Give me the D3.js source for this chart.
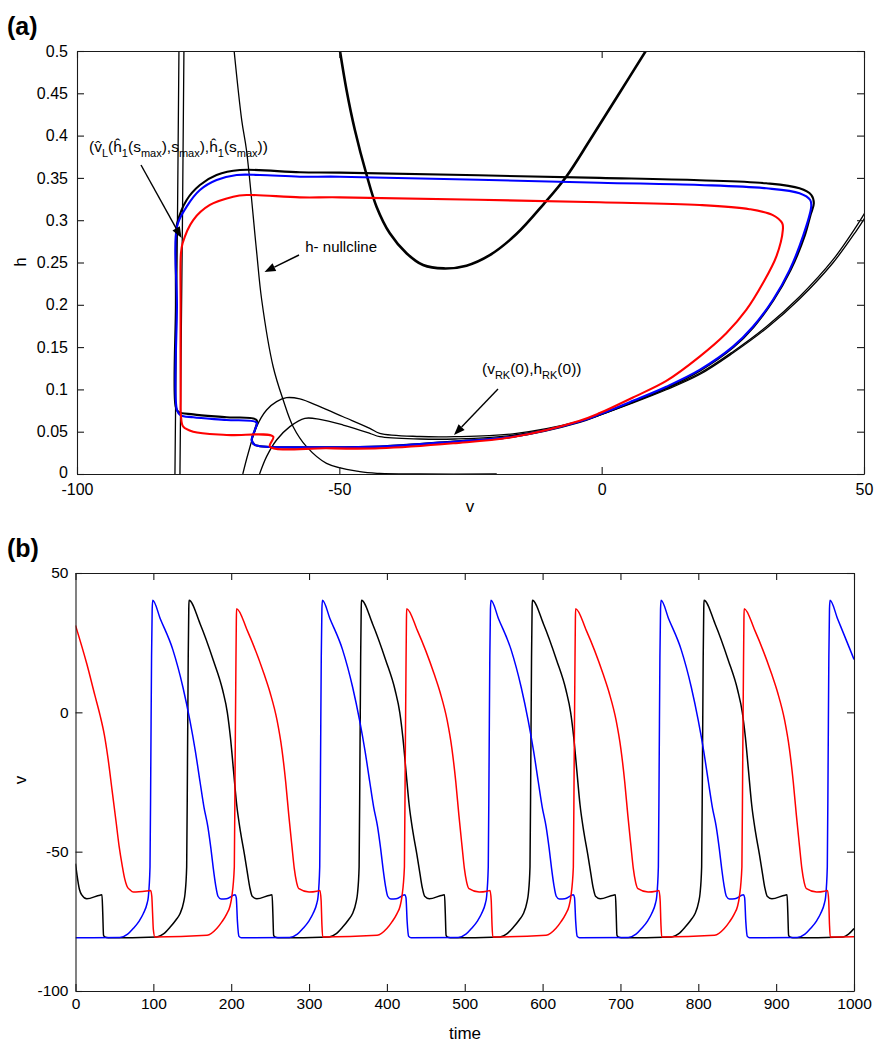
<!DOCTYPE html>
<html><head><meta charset="utf-8">
<script src="https://cdn.jsdelivr.net/npm/d3@7"></script>
<style>
body{margin:0;background:#fff}
text{font-family:"Liberation Sans",Arial,Helvetica,sans-serif}
</style>
</head><body>
<svg id="chart" width="886" height="1050"></svg>
<script>
// ---------------- Panel (a) data: phase plane (v, h) ----------------
const vTicksA = [-100, -50, 0, 50];
const hTicksA = [0, 0.05, 0.1, 0.15, 0.2, 0.25, 0.3, 0.35, 0.4, 0.45, 0.5];
const hTickLabelsA = ["0","0.05","0.1","0.15","0.2","0.25","0.3","0.35","0.4","0.45","0.5"];

// left (near-vertical) branches of the two v-nullclines
const vNullLeft1 = [[-81.33,0],[-81.1,0.15],[-80.85,0.3],[-80.57,0.5]];
const vNullLeft2 = [[-80.38,0],[-80.15,0.15],[-79.9,0.3],[-79.62,0.5]];

// middle/right branches of the two v-nullclines
const vNullRight1 = [[-68.4,0],[-67.37,0.0245],[-65.77,0.056],[-63.87,0.0757],[-61.96,0.0855],[-60.06,0.0902],
  [-57.52,0.0887],[-53.71,0.0796],[-49.28,0.0677],[-44.19,0.054],[-42.29,0.0481],[-34.67,0.0443],[-28,0.0441],
  [-16.9,0.0475],[-4.19,0.0625],[-0.38,0.0703],[5.96,0.0848],[12.32,0.1008],[18.67,0.119],[25.01,0.1446],
  [31.37,0.1741],[37.71,0.2096],[44.06,0.253],[48.51,0.2923],[50.1,0.308]];
const vNullRight2 = [[-65.2,0],[-63.87,0.0205],[-61.96,0.0402],[-59.43,0.056],[-56.57,0.0658],[-53.71,0.0646],
  [-49.28,0.0579],[-44.19,0.0481],[-42.29,0.0441],[-34.67,0.0414],[-28,0.0414],[-16.9,0.0458],[-4.19,0.0618],
  [-0.38,0.0697],[5.96,0.084],[12.32,0.0996],[18.67,0.1176],[25.01,0.143],[31.37,0.172],[37.71,0.2069],
  [44.06,0.2494],[48.51,0.2872],[50.1,0.3022]];

// upper U-shaped curve
const uCurve = [[-49.9,0.501],[-48.63,0.454],[-47.05,0.407],[-44.82,0.354],[-42.91,0.316],[-40.38,0.2845],
  [-37.2,0.261],[-34.04,0.247],[-30.1,0.243],[-25.77,0.2463],[-21.33,0.2587],[-16.25,0.2836],[-11.05,0.3191],
  [-6.72,0.3517],[-2.29,0.3942],[2.8,0.4444],[8.51,0.501]];

// h-nullcline
const hNull = [[-70.05,0.5],[-68.6,0.418],[-67.7,0.383],[-65.8,0.265],[-64.8,0.206],[-62.61,0.1268],
  [-60.7,0.0875],[-58.8,0.0559],[-56.25,0.0323],[-52.44,0.0126],[-46.1,0.0027],[-42.3,0.0006],[-34.7,0],[-20,0]];

// limit cycles
const cycleBlack = [[-81.2,0.08],[-81.15,0.2],[-81.1,0.285],[-80.9,0.2963],[-79.1,0.3239],[-76.57,0.3416],
  [-73.4,0.3534],[-68.95,0.3593],[-57.52,0.3566],[-49.9,0.3562],[-0.38,0.3500],[18.67,0.3472],[31.37,0.3436],
  [37.71,0.3377],[39.94,0.33],[40.44,0.32],[39.8,0.306],[38.67,0.281],[36,0.241],[32.76,0.2057],[28.95,0.1738],
  [25.14,0.1501],[18.76,0.1223],[12.38,0.102],[6,0.0855],[-0.38,0.07],[-4.19,0.0615],[-16.9,0.0441],
  [-28.3,0.0384],[-42.3,0.0325],[-52.44,0.0315],[-63.87,0.0323],[-66.1,0.0343],[-66.7,0.0402],[-66.1,0.052],
  [-65.77,0.0638],[-71.5,0.067],[-77.85,0.0705],[-80.7,0.0736],[-81.2,0.08]];
const cycleBlue = [[-80.95,0.0757],[-80.95,0.2],[-80.95,0.2923],[-79.1,0.316],[-76.57,0.3357],[-73.39,0.3475],
  [-69.58,0.3534],[-65.14,0.3534],[-57.52,0.3514],[-49.9,0.3514],[-0.38,0.3443],[18.67,0.3416],[31.37,0.3377],
  [37.71,0.3318],[39.75,0.3239],[39.94,0.316],[38.34,0.2805],[35.81,0.241],[32.63,0.2057],[28.82,0.174],
  [25.01,0.1505],[18.67,0.123],[12.32,0.1032],[5.96,0.0865],[-0.38,0.0705],[-4.19,0.062],[-16.9,0.0441],
  [-28.3,0.0382],[-42.3,0.0323],[-52.44,0.0315],[-63.87,0.0323],[-66.1,0.0343],[-66.7,0.0402],[-66.1,0.052],
  [-65.77,0.0607],[-71.5,0.0638],[-77.85,0.067],[-80.3,0.0697],[-80.95,0.0757]];
const cycleRed = [[-79.75,0.0559],[-77.85,0.05],[-71.5,0.0461],[-62.6,0.0441],[-63.24,0.0323],[-52.44,0.0304],
  [-42.3,0.0304],[-28.3,0.0363],[-16.9,0.0437],[-4.19,0.063],[-0.38,0.072],[5.96,0.0905],[12.32,0.11],
  [18.67,0.1387],[23.75,0.1663],[27.56,0.1939],[30.72,0.2254],[33.28,0.2569],[34.53,0.2884],[34.42,0.2963],
  [32.63,0.306],[28.19,0.313],[18.67,0.318],[-0.38,0.3212],[-49.9,0.327],[-57.52,0.327],[-67.68,0.3298],
  [-70.23,0.3278],[-74.67,0.318],[-77.85,0.3002],[-79.87,0.2727],[-80.2,0.26],[-80.25,0.2],[-80.25,0.0875],
  [-80.2,0.07],[-79.75,0.0559]];

// ---------------- Panel (b) data: v(t) ----------------
const timeTicks = [0,100,200,300,400,500,600,700,800,900,1000];
const vTicksB = [-100,-50,0,50];

const traceBlue = [[0,-80.9],[57,-80.8],[67,-79.6],[74,-77.6],[82,-74.8],[87,-72.3],[92,-68.5],[93.5,-66.3],[95.7,-55.5],[96.7,-20],[97.7,20],[98.5,37],[99.2,40.2],
  [109,33.5],[125,22.5],[138,9],[147,-3],[154,-14],[160,-25],[165,-34],[170,-41],[174,-49],[177,-56],[180,-62],[183,-66],[187,-67],[194,-66.9],[205,-65.5],[206.5,-66.5],[208,-75],[210,-80.4],[213,-80.9],
  [275,-80.8],[285,-79.6],[292,-77.6],[300,-74.8],[305,-72.3],[310,-68.5],[311.5,-66.3],[313.7,-55.5],[314.7,-20],[315.7,20],[316.5,37],[317.2,40.2],
  [327,33.5],[343,22.5],[356,9],[365,-3],[372,-14],[378,-25],[383,-34],[388,-41],[392,-49],[395,-56],[398,-62],[401,-66],[405,-67],[412,-66.9],[423,-65.5],[424.5,-66.5],[426,-75],[428,-80.4],[431,-80.9],
  [491.5,-80.8],[501.5,-79.6],[508.5,-77.6],[516.5,-74.8],[521.5,-72.3],[526.5,-68.5],[528,-66.3],[530.2,-55.5],[531.2,-20],[532.2,20],[533,37],[533.7,40.2],
  [543.5,33.5],[559.5,22.5],[572.5,9],[581.5,-3],[588.5,-14],[594.5,-25],[599.5,-34],[604.5,-41],[608.5,-49],[611.5,-56],[614.5,-62],[617.5,-66],[621.5,-67],[628.5,-66.9],[639.5,-65.5],[641,-66.5],[642.5,-75],[644.5,-80.4],[647.5,-80.9],
  [710,-80.8],[720,-79.6],[727,-77.6],[735,-74.8],[740,-72.3],[745,-68.5],[746.5,-66.3],[748.7,-55.5],[749.7,-20],[750.7,20],[751.5,37],[752.2,40.2],
  [762,33.5],[778,22.5],[791,9],[800,-3],[807,-14],[813,-25],[818,-34],[823,-41],[827,-49],[830,-56],[833,-62],[836,-66],[840,-67],[847,-66.9],[858,-65.5],[859.5,-66.5],[861,-75],[863,-80.4],[866,-80.9],
  [927,-80.8],[937,-79.6],[944,-77.6],[952,-74.8],[957,-72.3],[962,-68.5],[963.5,-66.3],[965.7,-55.5],[966.7,-20],[967.7,20],[968.5,37],[969.2,40.2],[979,33.5],[995,22.5],[1000,19]];

const traceBlack = [[0,-54.3],[2,-58.5],[5,-63.5],[8,-65.5],[14.5,-66.9],[31.5,-65.6],[34,-65.5],[35,-72],[36,-80],[37.5,-80.6],[42,-80.9],
  [104.3,-80.6],[113,-79.5],[121.4,-77.1],[129,-74.5],[134.2,-72.3],[139,-68],[140.7,-65.1],[142.8,-55.5],[143.8,-20],[144.8,20],[145.5,37],[145.8,40.2],
  [160,31.8],[177,18.7],[189,8],[195,0],[199,-9],[203,-21],[207,-33],[212,-43],[217,-51],[221,-58],[224,-63],[227,-66],[233,-66.9],[250,-65.6],[252.5,-65.5],[253.5,-72],[254.5,-80],[256,-80.6],[260,-80.9],
  [325.8,-80.6],[334.5,-79.5],[342.9,-77.1],[350.5,-74.5],[355.7,-72.3],[360.5,-68],[362.2,-65.1],[364.3,-55.5],[365.3,-20],[366.3,20],[367,37],[367.3,40.2],
  [381.5,31.8],[398.5,18.7],[410.5,8],[416.5,0],[420.5,-9],[424.5,-21],[428.5,-33],[433.5,-43],[438.5,-51],[442.5,-58],[445.5,-63],[448.5,-66],[454.5,-66.9],[471.5,-65.6],[474,-65.5],[475,-72],[476,-80],[477.5,-80.6],[481.5,-80.9],
  [545.3,-80.6],[554,-79.5],[562.4,-77.1],[570,-74.5],[575.2,-72.3],[580,-68],[581.7,-65.1],[583.8,-55.5],[584.8,-20],[585.8,20],[586.5,37],[586.8,40.2],
  [601,31.8],[618,18.7],[630,8],[636,0],[640,-9],[644,-21],[648,-33],[653,-43],[658,-51],[662,-58],[665,-63],[668,-66],[674,-66.9],[691,-65.6],[693.5,-65.5],[694.5,-72],[695.5,-80],[697,-80.6],[701,-80.9],
  [765.8,-80.6],[774.5,-79.5],[782.9,-77.1],[790.5,-74.5],[795.7,-72.3],[800.5,-68],[802.2,-65.1],[804.3,-55.5],[805.3,-20],[806.3,20],[807,37],[807.3,40.2],
  [821.5,31.8],[838.5,18.7],[850.5,8],[856.5,0],[860.5,-9],[864.5,-21],[868.5,-33],[873.5,-43],[878.5,-51],[882.5,-58],[885.5,-63],[888.5,-66],[894.5,-66.9],[911.5,-65.6],[914,-65.5],[915,-72],[916,-80],[917.5,-80.6],[921.5,-80.9],
  [986,-80.6],[993,-79.6],[1000,-77.6]];

const traceRed = [[0,31.2],[14.4,17.5],[25,6],[31.5,-1],[37,-8],[42,-17],[47,-28],[52,-39],[56,-48],[60,-55],[63,-59.5],[66,-62.3],[70,-63.7],[74.3,-64.5],[91.4,-64.1],[96.6,-63.9],[98,-66],[99,-72],[100,-78],[102,-80.6],
  [169,-80],[181.4,-77.6],[188,-75.2],[194.3,-72.3],[198.5,-69.5],[200.7,-66.3],[204,-55.5],[205,-20],[206,15],[206.6,33],[206.9,37.2],
  [220.6,29.4],[242,13.9],[250,7],[259,-3],[265,-13],[270,-25],[274,-37],[278,-48],[281,-56],[284,-61],[287,-63.3],[300,-64.5],[310,-64.2],[314,-63.9],[315.5,-67.5],[316.5,-76],[317.5,-80.6],
  [387.5,-80],[399.9,-77.6],[406.5,-75.2],[412.8,-72.3],[417,-69.5],[419.2,-66.3],[422.5,-55.5],[423.5,-20],[424.5,15],[425.1,33],[425.4,37.2],
  [439.1,29.4],[460.5,13.9],[468.5,7],[477.5,-3],[483.5,-13],[488.5,-25],[492.5,-37],[496.5,-48],[499.5,-56],[502.5,-61],[505.5,-63.3],[518.5,-64.5],[528.5,-64.2],[532.5,-63.9],[534,-67.5],[535,-76],[536,-80.6],
  [604.5,-80],[616.9,-77.6],[623.5,-75.2],[629.8,-72.3],[634,-69.5],[636.2,-66.3],[639.5,-55.5],[640.5,-20],[641.5,15],[642.1,33],[642.4,37.2],
  [656.1,29.4],[677.5,13.9],[685.5,7],[694.5,-3],[700.5,-13],[705.5,-25],[709.5,-37],[713.5,-48],[716.5,-56],[719.5,-61],[722.5,-63.3],[735.5,-64.5],[745.5,-64.2],[749.5,-63.9],[751,-67.5],[752,-76],[753,-80.6],
  [821,-80],[833.4,-77.6],[840,-75.2],[846.3,-72.3],[850.5,-69.5],[852.7,-66.3],[856,-55.5],[857,-20],[858,15],[858.6,33],[858.9,37.2],
  [872.6,29.4],[894,13.9],[902,7],[911,-3],[917,-13],[922,-25],[926,-37],[930,-48],[933,-56],[936,-61],[939,-63.3],[952,-64.5],[962,-64.2],[966,-63.9],[967.5,-67.5],[968.5,-76],[969.5,-80.6],[1000,-80.5]];

// ---------------- drawing ----------------
const svg = d3.select("#chart");
const FONT = '"Liberation Sans",Arial,Helvetica,sans-serif';

function frame(g, x, y, xt, yt, xfmt, yfmt, fs, padX, padY) {
  const [x0, x1] = x.range(), [y0, y1] = y.range();
  const style = s => {
    s.attr("font-family", FONT).attr("font-size", fs);
    s.selectAll("path.domain").attr("stroke", "#1a1a1a").attr("stroke-width", 1.1);
    s.selectAll(".tick line").attr("stroke", "#1a1a1a").attr("stroke-width", 1.1);
    s.selectAll("text").attr("fill", "#000");
  };
  g.append("g").attr("transform", `translate(0,${y0})`)
    .call(d3.axisBottom(x).tickValues(xt).tickSizeInner(-7).tickSizeOuter(0).tickPadding(padX).tickFormat(xfmt)).call(style);
  g.append("g").attr("transform", `translate(0,${y1})`)
    .call(d3.axisTop(x).tickValues(xt).tickSizeInner(-7).tickSizeOuter(0).tickFormat("")).call(style);
  const left = g.append("g").attr("transform", `translate(${x0},0)`)
    .call(d3.axisLeft(y).tickValues(yt).tickSizeInner(-7).tickSizeOuter(0).tickPadding(padY).tickFormat(yfmt)).call(style);
  g.append("g").attr("transform", `translate(${x1},0)`)
    .call(d3.axisRight(y).tickValues(yt).tickSizeInner(-7).tickSizeOuter(0).tickFormat("")).call(style);
  return left;
}

function arrow(g, x1, y1, x2, y2) {
  const ang = Math.atan2(y2 - y1, x2 - x1), L = 11, W = 4.2;
  const bx = x2 - L * Math.cos(ang), by = y2 - L * Math.sin(ang);
  g.append("line").attr("x1", x1).attr("y1", y1).attr("x2", bx).attr("y2", by)
    .attr("stroke", "#000").attr("stroke-width", 1.4);
  const px = -Math.sin(ang) * W, py = Math.cos(ang) * W;
  g.append("path").attr("d", `M${x2},${y2}L${bx + px},${by + py}L${bx - px},${by - py}Z`).attr("fill", "#000");
}

function richText(g, x, y, parts, fs, subFs, shift) {
  const t = g.append("text").attr("x", x).attr("y", y).attr("font-family", FONT).attr("font-size", fs).attr("fill", "#000");
  let cur = 0;
  parts.forEach(([s, kind]) => {
    const target = kind === "sub" ? shift : 0;
    t.append("tspan").attr("dy", target - cur).attr("font-size", kind === "sub" ? subFs : fs).text(s);
    cur = target;
  });
  return t;
}

// ----- Panel (a)
const xA = d3.scaleLinear().domain([-100, 50]).range([77, 864]);
const yA = d3.scaleLinear().domain([0, 0.5]).range([474, 51]);
const gA = svg.append("g");
const defs = svg.append("defs");
defs.append("clipPath").attr("id", "clipA").append("rect")
  .attr("x", 77).attr("y", 51).attr("width", 787).attr("height", 423);
const plotA = gA.append("g").attr("clip-path", "url(#clipA)");
const lineA = d3.line().x(d => xA(d[0])).y(d => yA(d[1])).curve(d3.curveCatmullRom.alpha(0.5));
const lineAL = d3.line().x(d => xA(d[0])).y(d => yA(d[1]));

[vNullLeft1, vNullLeft2].forEach(d => plotA.append("path").attr("d", lineAL(d)).attr("fill", "none").attr("stroke", "#000").attr("stroke-width", 1.3));
[vNullRight1, vNullRight2, hNull].forEach(d => plotA.append("path").attr("d", lineA(d)).attr("fill", "none").attr("stroke", "#000").attr("stroke-width", 1.3));
plotA.append("path").attr("d", lineA(uCurve)).attr("fill", "none").attr("stroke", "#000").attr("stroke-width", 2.6);

const lineClosed = d3.line().x(d => xA(d[0])).y(d => yA(d[1])).curve(d3.curveCatmullRomClosed.alpha(0.5));
[[cycleBlack, "#000"], [cycleBlue, "#0000ff"], [cycleRed, "#ff0000"]].forEach(([d, c]) =>
  plotA.append("path").attr("d", lineClosed(d.slice(0, -1))).attr("fill", "none").attr("stroke", c).attr("stroke-width", 2.1).attr("stroke-linejoin", "round"));

const leftA = frame(gA, xA, yA, vTicksA, hTicksA, d => String(d), (d, i) => hTickLabelsA[i], 16, 10, 9);
leftA.selectAll(".tick text").filter(d => d === 0).attr("dy", "0.2em");

gA.append("text").attr("x", 470).attr("y", 512).attr("text-anchor", "middle").attr("font-family", FONT).attr("font-size", 17).text("v");
gA.append("text").attr("transform", "translate(26,262) rotate(-90)").attr("text-anchor", "middle").attr("font-family", FONT).attr("font-size", 17).text("h");
svg.append("text").attr("x", 7).attr("y", 35).attr("font-family", FONT).attr("font-weight", "bold").attr("font-size", 25).text("(a)");

// annotations in panel (a)
richText(gA, 89, 152, [["(v\u0302", "n"], ["L", "sub"], ["(\u0125", "n"], ["1", "sub"], ["(s", "n"], ["max", "sub"],
  ["),s", "n"], ["max", "sub"], ["),\u0125", "n"], ["1", "sub"], ["(s", "n"], ["max", "sub"], ["))", "n"]], 15.5, 11, 5);
arrow(gA, 141, 165, 181.5, 238);
gA.append("text").attr("x", 377).attr("y", 252).attr("text-anchor", "end").attr("font-family", FONT).attr("font-size", 15).text("h- nullcline");
arrow(gA, 299, 255, 264.5, 272);
richText(gA, 482, 374, [["(v", "n"], ["RK", "sub"], ["(0),h", "n"], ["RK", "sub"], ["(0))", "n"]], 15.5, 11, 5);
arrow(gA, 498, 389, 454, 435);

// ----- Panel (b)
const xB = d3.scaleLinear().domain([0, 1000]).range([75.5, 854]);
const yB = d3.scaleLinear().domain([-100, 50]).range([991, 573]);
const gB = svg.append("g");
defs.append("clipPath").attr("id", "clipB").append("rect")
  .attr("x", 75.5).attr("y", 573).attr("width", 778.5).attr("height", 418);
const plotB = gB.append("g").attr("clip-path", "url(#clipB)");
const lineB = d3.line().x(d => xB(d[0])).y(d => yB(d[1])).curve(d3.curveMonotoneX);
[[traceBlack, "#000"], [traceBlue, "#0000ff"], [traceRed, "#ff0000"]].forEach(([d, c]) =>
  plotB.append("path").attr("d", lineB(d)).attr("fill", "none").attr("stroke", c).attr("stroke-width", 1.5).attr("stroke-linejoin", "round"));

frame(gB, xB, yB, timeTicks, vTicksB, d => String(d), d => String(d), 15.5, 7, 7);
gB.append("text").attr("x", 465).attr("y", 1039).attr("text-anchor", "middle").attr("font-family", FONT).attr("font-size", 17).text("time");
gB.append("text").attr("transform", "translate(26,780) rotate(-90)").attr("text-anchor", "middle").attr("font-family", FONT).attr("font-size", 17).text("v");
svg.append("text").attr("x", 7).attr("y", 557).attr("font-family", FONT).attr("font-weight", "bold").attr("font-size", 25).text("(b)");
</script>
</body></html>
